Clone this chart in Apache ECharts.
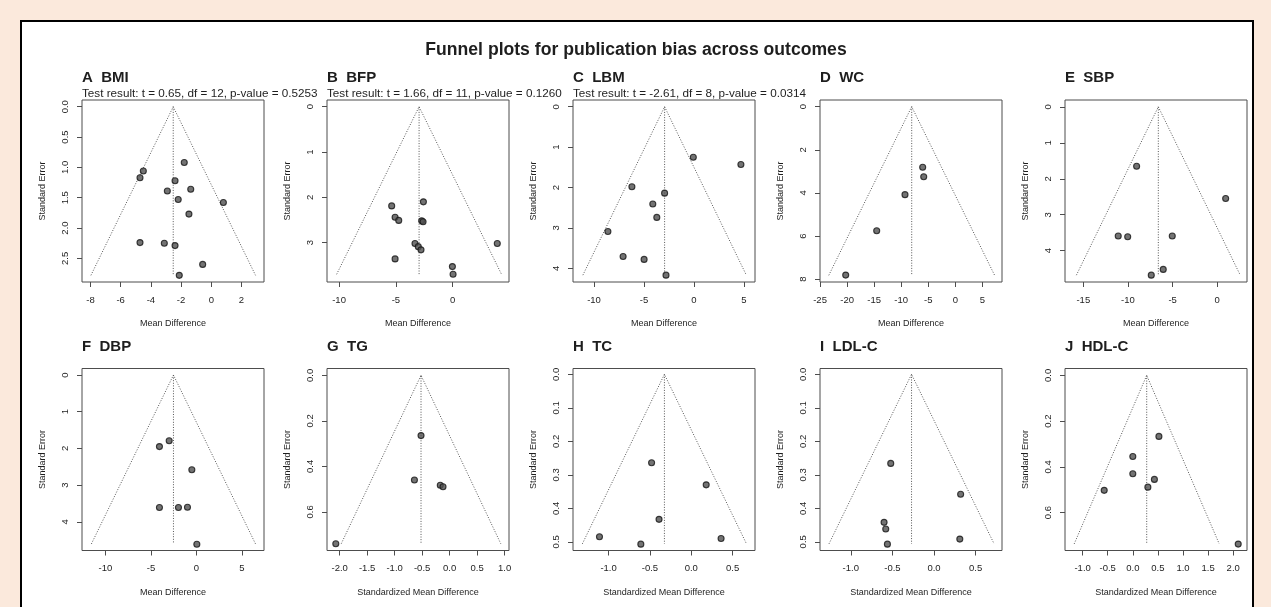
<!DOCTYPE html>
<html>
<head>
<meta charset="utf-8">
<script src="https://cdn.jsdelivr.net/npm/echarts@6/dist/echarts.min.js"></script>
<style>
  html, body { margin: 0; padding: 0; width: 1271px; height: 607px; overflow: hidden; background: #fbe9dc; }
  #sheet { position: absolute; left: 20px; top: 20px; width: 1230px; height: 600px; background: #ffffff;
           border: 2px solid #000; border-bottom: none; }
  #chart { position: absolute; left: 0; top: 0; width: 1271px; height: 607px; }
</style>
</head>
<body>
<div id="sheet"></div>
<div id="chart"></div>
<script>
// ---- Outcomes ----
const panelLetters = ['A', 'B', 'C', 'D', 'E', 'F', 'G', 'H', 'I', 'J'];
const outcomeNames = ['BMI', 'BFP', 'LBM', 'WC', 'SBP', 'DBP', 'TG', 'TC', 'LDL-C', 'HDL-C'];
const effectMeasure = ['Mean Difference', 'Mean Difference', 'Mean Difference', 'Mean Difference', 'Mean Difference',
                       'Mean Difference', 'Standardized Mean Difference', 'Standardized Mean Difference',
                       'Standardized Mean Difference', 'Standardized Mean Difference'];
// Egger regression test results (shown for outcomes with enough studies)
const eggerResults = [
  'Test result: t = 0.65, df = 12, p-value = 0.5253',
  'Test result: t = 1.66, df = 11, p-value = 0.1260',
  'Test result: t = -2.61, df = 8, p-value = 0.0314',
  '', '', '', '', '', '', ''
];

// ---- Study effects (x) and standard errors (y) ----
const bmiMD = [-1.79, -4.50, -4.72, -2.40, -2.91, -1.36, -2.19, 0.80, -1.48, -4.72, -3.11, -2.40, -0.57, -2.12];
const bmiSE = [0.92, 1.06, 1.17, 1.22, 1.39, 1.36, 1.53, 1.58, 1.77, 2.24, 2.25, 2.29, 2.60, 2.78];

const bfpMD = [-2.58, -5.37, -5.07, -4.75, -2.73, -2.61, -3.32, -3.03, -2.79, 3.92, -5.07, -0.03, 0.03];
const bfpSE = [2.10, 2.19, 2.44, 2.51, 2.52, 2.54, 3.02, 3.09, 3.16, 3.02, 3.36, 3.53, 3.70];

const lbmMD = [-0.07, 4.69, -6.21, -2.94, -4.12, -3.72, -8.61, -7.09, -4.99, -2.80];
const lbmSE = [1.25, 1.43, 1.98, 2.14, 2.41, 2.74, 3.09, 3.71, 3.78, 4.17];

const wcMD = [-6.03, -5.84, -9.30, -14.53, -20.26];
const wcSE = [2.81, 3.25, 4.08, 5.75, 7.81];

const sbpMD = [-9.03, 0.94, -11.09, -10.03, -5.04, -6.05, -7.39];
const sbpSE = [1.65, 2.55, 3.59, 3.61, 3.59, 4.52, 4.68];

const dbpMD = [-3.00, -4.07, -0.51, -4.07, -1.98, -0.99, 0.04];
const dbpSE = [1.79, 1.95, 2.58, 3.61, 3.61, 3.60, 4.61];

const tgSMD = [-0.52, -0.64, -0.17, -0.12, -2.07];
const tgSE = [0.265, 0.46, 0.483, 0.49, 0.74];

const tcSMD = [-0.48, 0.18, -0.39, -1.11, 0.36, -0.61];
const tcSE = [0.264, 0.33, 0.433, 0.485, 0.49, 0.507];

const ldlSMD = [-0.52, 0.32, -0.60, -0.58, 0.31, -0.56];
const ldlSE = [0.266, 0.358, 0.442, 0.462, 0.492, 0.507];

const hdlSMD = [0.52, 0.00, 0.00, 0.43, 0.30, -0.57, 2.10];
const hdlSE = [0.267, 0.355, 0.43, 0.455, 0.489, 0.503, 0.738];

const effects = [bmiMD, bfpMD, lbmMD, wcMD, sbpMD, dbpMD, tgSMD, tcSMD, ldlSMD, hdlSMD];
const stdErrors = [bmiSE, bfpSE, lbmSE, wcSE, sbpSE, dbpSE, tgSE, tcSE, ldlSE, hdlSE];

// Pooled estimate (funnel apex) and largest standard error (funnel base)
const pooledEstimate = [-2.52, -2.96, -2.94, -8.06, -6.60, -2.53, -0.52, -0.325, -0.27, 0.277];
const funnelDepth = [2.78, 3.70, 4.17, 7.82, 4.68, 4.60, 0.74, 0.506, 0.506, 0.737];

// ---- Tick labels ----
const xTickLabels = [
  ['-8', '-6', '-4', '-2', '0', '2'],
  ['-10', '-5', '0'],
  ['-10', '-5', '0', '5'],
  ['-25', '-20', '-15', '-10', '-5', '0', '5'],
  ['-15', '-10', '-5', '0'],
  ['-10', '-5', '0', '5'],
  ['-2.0', '-1.5', '-1.0', '-0.5', '0.0', '0.5', '1.0'],
  ['-1.0', '-0.5', '0.0', '0.5'],
  ['-1.0', '-0.5', '0.0', '0.5'],
  ['-1.0', '-0.5', '0.0', '0.5', '1.0', '1.5', '2.0']
];
const yTickLabels = [
  ['0.0', '0.5', '1.0', '1.5', '2.0', '2.5'],
  ['0', '1', '2', '3'],
  ['0', '1', '2', '3', '4'],
  ['0', '2', '4', '6', '8'],
  ['0', '1', '2', '3', '4'],
  ['0', '1', '2', '3', '4'],
  ['0.0', '0.2', '0.4', '0.6'],
  ['0.0', '0.1', '0.2', '0.3', '0.4', '0.5'],
  ['0.0', '0.1', '0.2', '0.3', '0.4', '0.5'],
  ['0.0', '0.2', '0.4', '0.6']
];

// ---- Layout ----
const boxLeft = [82, 327, 573, 820, 1065];
const boxTop = [100, 368.5];
const boxW = 182, boxH = 182;
const xRange = [[-8.56, 3.49], [-11.06, 4.95], [-12.1, 6.1], [-25.01, 8.63], [-17.05, 3.33],
                [-12.58, 7.42], [-2.23, 1.08], [-1.43, 0.77], [-1.37, 0.817], [-1.351, 2.275]];
const yRange = [[-0.111, 2.89], [-0.148, 3.87], [-0.167, 4.34], [-0.31, 8.13], [-0.19, 4.87],
                [-0.177, 4.78], [-0.03, 0.77], [-0.0173, 0.526], [-0.0173, 0.526], [-0.03, 0.766]];

const FONT = '"Liberation Sans", Arial, Helvetica, sans-serif';
const INK = '#1e1e1e';
const FRAME = '#4d4d4d';
const Z95 = 1.96;

function tickSpec(labels) {
  const vals = labels.map(Number);
  return {
    vals,
    fmt: v => {
      const k = vals.findIndex(t => Math.abs(t - v) < 1e-9);
      return k >= 0 ? labels[k] : '';
    }
  };
}

const grids = [], xAxes = [], yAxes = [], series = [], graphics = [];

graphics.push({
  type: 'text', x: 636, y: 50, silent: true,
  style: { text: 'Funnel plots for publication bias across outcomes', fill: INK, font: 'bold 17.6px ' + FONT,
           align: 'center', verticalAlign: 'middle' }
});

panelLetters.forEach((letter, i) => {
  const col = i % 5, row = Math.floor(i / 5);
  const left = boxLeft[col], top = boxTop[row];
  const xt = tickSpec(xTickLabels[i]);
  const yt = tickSpec(yTickLabels[i]);

  grids.push({
    left, top, width: boxW, height: boxH, show: true, borderColor: FRAME, borderWidth: 1,
    backgroundColor: 'transparent', containLabel: false, outerBoundsMode: 'none'
  });

  xAxes.push({
    type: 'value', gridIndex: i, position: 'bottom', min: xRange[i][0], max: xRange[i][1],
    name: effectMeasure[i], nameLocation: 'middle', nameGap: 37, nameMoveOverlap: false,
    nameTextStyle: { fontFamily: FONT, fontSize: 9, color: INK, lineHeight: 10 },
    axisLine: { show: false, onZero: false }, splitLine: { show: false },
    axisTick: { show: true, inside: false, length: 5, customValues: xt.vals, lineStyle: { color: FRAME, width: 1 } },
    axisLabel: { customValues: xt.vals, formatter: xt.fmt, margin: 13, fontFamily: FONT, fontSize: 9.5,
                 color: INK, lineHeight: 10 }
  });

  yAxes.push({
    type: 'value', gridIndex: i, position: 'left', inverse: true, min: yRange[i][0], max: yRange[i][1],
    name: 'Standard Error', nameLocation: 'middle', nameGap: 34, nameMoveOverlap: false,
    nameTextStyle: { fontFamily: FONT, fontSize: 9, color: INK, lineHeight: 10 },
    axisLine: { show: false, onZero: false }, splitLine: { show: false },
    axisTick: { show: true, inside: false, length: 5, customValues: yt.vals, lineStyle: { color: FRAME, width: 1 } },
    axisLabel: { customValues: yt.vals, formatter: yt.fmt, rotate: 90, margin: 12, fontFamily: FONT,
                 fontSize: 9.5, color: INK, lineHeight: 10 }
  });

  const c = pooledEstimate[i], s = funnelDepth[i];
  const dotted = { color: '#555555', width: 1, type: [1, 1.6] };

  // pseudo 95% confidence region
  series.push({
    type: 'line', xAxisIndex: i, yAxisIndex: i, symbol: 'none', silent: true, animation: false,
    data: [[c - Z95 * s, s], [c, 0], [c + Z95 * s, s]], lineStyle: dotted, z: 2
  });
  // pooled estimate reference line
  series.push({
    type: 'line', xAxisIndex: i, yAxisIndex: i, symbol: 'none', silent: true, animation: false,
    data: [[c, 0], [c, s]], lineStyle: dotted, z: 2
  });
  // individual studies
  series.push({
    type: 'scatter', xAxisIndex: i, yAxisIndex: i, symbol: 'circle', symbolSize: 6, animation: false,
    data: effects[i].map((m, j) => [m, stdErrors[i][j]]),
    itemStyle: { color: '#505050', borderColor: '#141414', borderWidth: 1.1 }, z: 3
  });

  graphics.push({
    type: 'text', x: left, y: top - 22, silent: true,
    style: { text: letter + '  ' + outcomeNames[i], fill: INK, font: 'bold 15px ' + FONT,
             align: 'left', verticalAlign: 'middle' }
  });
  if (eggerResults[i]) {
    graphics.push({
      type: 'text', x: left, y: top - 6.7, silent: true,
      style: { text: eggerResults[i], fill: INK, font: '11.7px ' + FONT, align: 'left', verticalAlign: 'middle' }
    });
  }
});

const chart = echarts.init(document.getElementById('chart'), null, { renderer: 'canvas' });
chart.setOption({
  animation: false,
  backgroundColor: 'transparent',
  grid: grids,
  xAxis: xAxes,
  yAxis: yAxes,
  series,
  graphic: graphics
});
</script>
</body>
</html>
